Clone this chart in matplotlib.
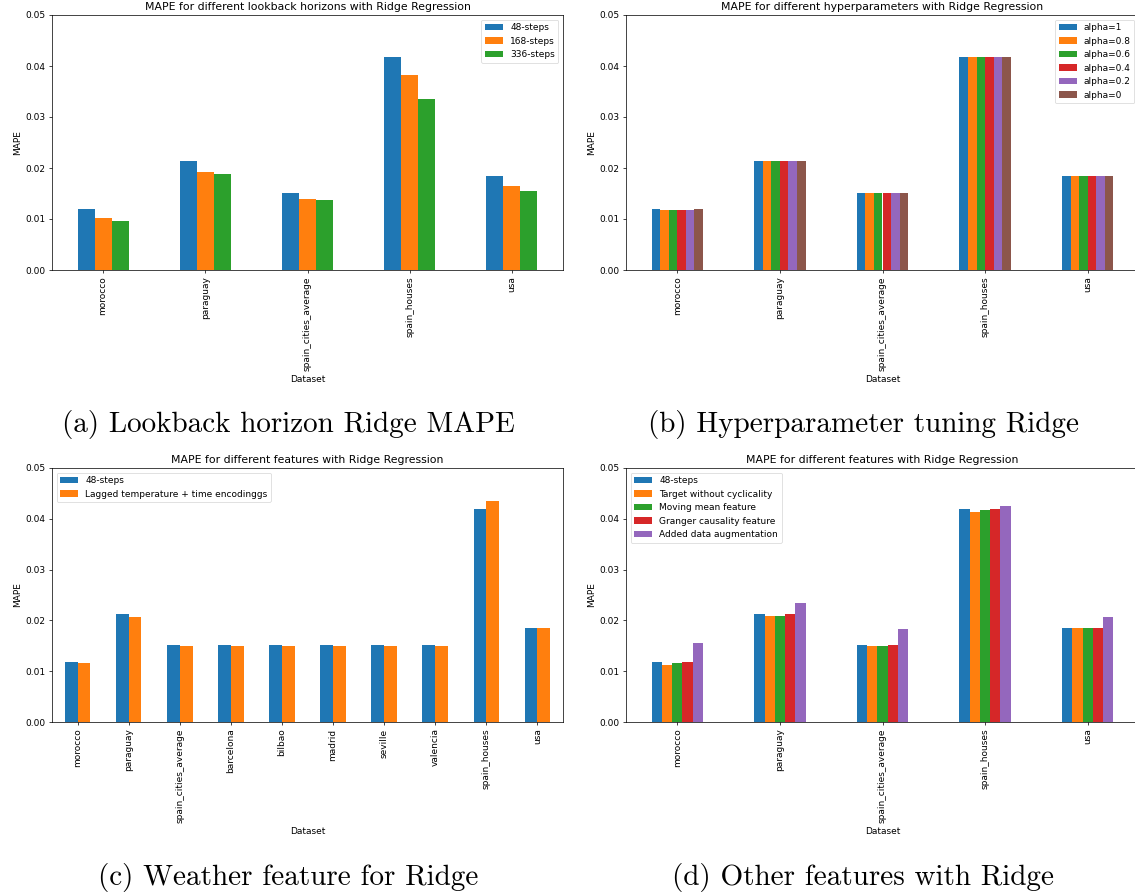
import numpy as np
import matplotlib
matplotlib.use("Agg")
import matplotlib.pyplot as plt

# ---- data ----
datasets_5 = ["morocco", "paraguay", "spain_cities_average", "spain_houses", "usa"]
datasets_10 = ["morocco", "paraguay", "spain_cities_average", "barcelona", "bilbao",
               "madrid", "seville", "valencia", "spain_houses", "usa"]

# (a) lookback horizons
lookback_labels = ["48-steps", "168-steps", "336-steps"]
steps_48 = [0.0119, 0.0213, 0.0151, 0.0418, 0.0185]
steps_168 = [0.0102, 0.0193, 0.0140, 0.0383, 0.0164]
steps_336 = [0.0097, 0.0189, 0.0137, 0.0336, 0.0154]

# (b) hyperparameters
alpha_labels = ["alpha=1", "alpha=0.8", "alpha=0.6", "alpha=0.4", "alpha=0.2", "alpha=0"]
alpha_1 = [0.0119, 0.0213, 0.0151, 0.0418, 0.0185]
alpha_08 = [0.0117, 0.0213, 0.0151, 0.0417, 0.0185]
alpha_06 = [0.0117, 0.0213, 0.0151, 0.0417, 0.0185]
alpha_04 = [0.0117, 0.0213, 0.0151, 0.0417, 0.0185]
alpha_02 = [0.0117, 0.0213, 0.0151, 0.0417, 0.0185]
alpha_0 = [0.0119, 0.0213, 0.0151, 0.0418, 0.0185]

# (c) weather feature
weather_labels = ["48-steps", "Lagged temperature + time encodinggs"]
base_10 = [0.0119, 0.0213, 0.0151, 0.0151, 0.0151, 0.0151, 0.0151, 0.0151, 0.0419, 0.0185]
weather_10 = [0.0117, 0.0206, 0.0150, 0.0150, 0.0149, 0.0150, 0.0150, 0.0150, 0.0435, 0.0185]

# (d) other features
feature_labels = ["48-steps", "Target without cyclicality", "Moving mean feature",
                  "Granger causality feature", "Added data augmentation"]
feat_base = [0.0119, 0.0213, 0.0151, 0.0419, 0.0185]
feat_nocycle = [0.0113, 0.0209, 0.0150, 0.0413, 0.0185]
feat_movmean = [0.0116, 0.0209, 0.0149, 0.0417, 0.0185]
feat_granger = [0.0119, 0.0212, 0.0151, 0.0419, 0.0185]
feat_augment = [0.0156, 0.0234, 0.0183, 0.0426, 0.0206]

W, H = 1135, 894
fig = plt.figure(figsize=(W / 100, H / 100), dpi=100)

FS = 6.5   # ticks / labels / legend (the panels look like 10pt shrunk ~0.65)
LW = 0.52


def rect(l, t, r, b):
    return [l / W, 1 - b / H, (r - l) / W, (b - t) / H]


def bar_panel(box, cats, series, labels, title, loc):
    ax = fig.add_axes(rect(*box))
    n = len(cats)
    k = len(series)
    w = 0.5 / k
    x = np.arange(n)
    colors = plt.rcParams["axes.prop_cycle"].by_key()["color"]
    for i, (vals, lab) in enumerate(zip(series, labels)):
        ax.bar(x - 0.25 + (i + 0.5) * w, vals, w, label=lab, color=colors[i])
    ax.set_xlim(-0.5, n - 0.5)
    ax.set_ylim(0, 0.05)
    ax.set_yticks([0, 0.01, 0.02, 0.03, 0.04, 0.05])
    ax.set_yticklabels(["0.00", "0.01", "0.02", "0.03", "0.04", "0.05"])
    ax.set_xticks(x)
    ax.set_xticklabels(cats, rotation=90)
    ax.tick_params(labelsize=FS, length=2.3, width=LW, pad=2.3)
    for s in ax.spines.values():
        s.set_linewidth(LW)
    ax.set_title(title, fontsize=7.8, pad=3.9)
    ax.set_xlabel("Dataset", fontsize=FS, labelpad=2.6)
    ax.set_ylabel("MAPE", fontsize=FS, labelpad=2.6)
    leg = ax.legend(loc=loc, fontsize=FS)
    leg.get_frame().set_linewidth(LW)
    return ax


bar_panel((52, 15, 563, 270), datasets_5, [steps_48, steps_168, steps_336],
          lookback_labels, "MAPE for different lookback horizons with Ridge Regression", "upper right")
bar_panel((626, 15, 1139, 270), datasets_5, [alpha_1, alpha_08, alpha_06, alpha_04, alpha_02, alpha_0],
          alpha_labels, "MAPE for different hyperparameters with Ridge Regression", "upper right")
bar_panel((52, 468, 563, 722), datasets_10, [base_10, weather_10],
          weather_labels, "MAPE for different features with Ridge Regression", "upper left")
bar_panel((626, 468, 1139, 722), datasets_5, [feat_base, feat_nocycle, feat_movmean, feat_granger, feat_augment],
          feature_labels, "MAPE for different features with Ridge Regression", "upper left")

# subfigure captions
cap = dict(fontsize=21, family="cmr10", ha="center", va="center")
fig.text(288 / W, 1 - 424 / H, "(a) Lookback horizon Ridge MAPE", **cap)
fig.text(863 / W, 1 - 424 / H, "(b) Hyperparameter tuning Ridge", **cap)
fig.text(288 / W, 1 - 877 / H, "(c) Weather feature for Ridge", **cap)
fig.text(863 / W, 1 - 877 / H, "(d) Other features with Ridge", **cap)

fig.savefig("out.png", dpi=100)
